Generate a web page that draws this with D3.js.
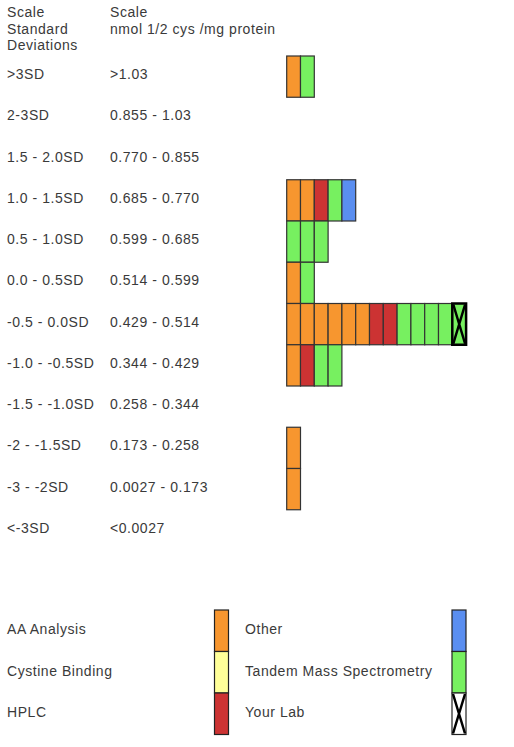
<!DOCTYPE html>
<html>
<head>
<meta charset="utf-8">
<script src="https://cdn.jsdelivr.net/npm/d3@7"></script>
<style>
  body { margin: 0; background: #fff; }
  text { font-family: "Liberation Sans", Arial, sans-serif; font-size: 14px; letter-spacing: 0.55px; fill: #3a3a3a; }
</style>
</head>
<body>
<svg id="chart"></svg>
<script>
// rows of the scale, top to bottom
const sdLabels = ['>3SD', '2-3SD', '1.5 - 2.0SD', '1.0 - 1.5SD', '0.5 - 1.0SD', '0.0 - 0.5SD',
    '-0.5 - 0.0SD', '-1.0 - -0.5SD', '-1.5 - -1.0SD', '-2 - -1.5SD', '-3 - -2SD', '<-3SD']
const valueLabels = ['>1.03', '0.855 - 1.03', '0.770 - 0.855', '0.685 - 0.770', '0.599 - 0.685', '0.514 - 0.599',
    '0.429 - 0.514', '0.344 - 0.429', '0.258 - 0.344', '0.173 - 0.258', '0.0027 - 0.173', '<0.0027']

// one entry per lab result, by row ('*' marks your lab)
const results = [
    ['AA', 'TMS'],
    [],
    [],
    ['AA', 'AA', 'HPLC', 'TMS', 'Other'],
    ['TMS', 'TMS', 'TMS'],
    ['AA', 'TMS'],
    ['AA', 'AA', 'AA', 'AA', 'AA', 'AA', 'HPLC', 'HPLC', 'TMS', 'TMS', 'TMS', 'TMS', 'TMS*'],
    ['AA', 'HPLC', 'TMS', 'TMS'],
    [],
    ['AA'],
    ['AA'],
    []
]

const methods = ['AA', 'CB', 'HPLC', 'Other', 'TMS', 'YourLab']
const methodNames = ['AA Analysis', 'Cystine Binding', 'HPLC', 'Other', 'Tandem Mass Spectrometry', 'Your Lab']
const methodColors = ['#f7962f', '#ffff99', '#cc3333', '#5a8ef0', '#77f060', '#ffffff']

const width = 514, height = 747
const svg = d3.select('#chart').attr('width', width).attr('height', height)

let color = d3.scaleOrdinal().domain(methods).range(methodColors)

let y = d3.scaleBand().domain(d3.range(sdLabels.length)).range([56, 56 + 41.25 * sdLabels.length])
let x = d3.scaleLinear().domain([0, 1]).range([286.7, 286.7 + 13.8])
let cellW = x(1) - x(0)

// header
let head = svg.append('g')
head.append('text').attr('x', 7).attr('y', 17)
    .selectAll('tspan').data(['Scale', 'Standard', 'Deviations']).join('tspan')
    .attr('x', 7).attr('dy', (d, i) => i ? 16.5 : 0).text(d => d)
head.append('text').attr('x', 110).attr('y', 17)
    .selectAll('tspan').data(['Scale', 'nmol 1/2 cys /mg protein']).join('tspan')
    .attr('x', 110).attr('dy', (d, i) => i ? 16.5 : 0).text(d => d)

// row labels
svg.append('g').selectAll('text.sd').data(sdLabels).join('text')
    .attr('class', 'sd').attr('x', 7).attr('y', (d, i) => y(i) + 23).text(d => d)
svg.append('g').selectAll('text.val').data(valueLabels).join('text')
    .attr('class', 'val').attr('x', 110).attr('y', (d, i) => y(i) + 23).text(d => d)

// cells
let cells = []
results.forEach((row, r) => row.forEach((m, c) => cells.push({ row: r, col: c, method: m.replace('*', ''), mine: m.endsWith('*') })))

function drawX(g, cx, cy, w, h) {
    g.append('path')
        .attr('d', `M${cx + 1},${cy + 1}L${cx + w - 1},${cy + h - 1}M${cx + w - 1},${cy + 1}L${cx + 1},${cy + h - 1}`)
        .attr('stroke', '#000').attr('stroke-width', 2.5).attr('fill', 'none')
}

let gCells = svg.append('g')
cells.forEach(d => {
    gCells.append('rect')
        .attr('x', x(d.col)).attr('y', y(d.row))
        .attr('width', cellW).attr('height', y.bandwidth())
        .attr('fill', color(d.method))
        .attr('stroke', d.mine ? '#000' : '#333')
        .attr('stroke-width', d.mine ? 2.5 : 1.2)
    if (d.mine) drawX(gCells, x(d.col), y(d.row), cellW, y.bandwidth())
})

// legend
let ly = d3.scaleBand().domain(d3.range(3)).range([610, 610 + 41.5 * 3])
let legend = svg.append('g')
methods.forEach((m, i) => {
    let col = Math.floor(i / 3), r = i % 3
    let tx = col ? 245 : 7
    let sx = col ? 452 : 214.5
    legend.append('text').attr('x', tx).attr('y', ly(r) + 24).text(methodNames[i])
    legend.append('rect')
        .attr('x', sx).attr('y', ly(r)).attr('width', 14).attr('height', ly.bandwidth())
        .attr('fill', color(m)).attr('stroke', '#222').attr('stroke-width', 1.2)
    if (m === 'YourLab') drawX(legend, sx, ly(r), 14, ly.bandwidth())
})
</script>
</body>
</html>
